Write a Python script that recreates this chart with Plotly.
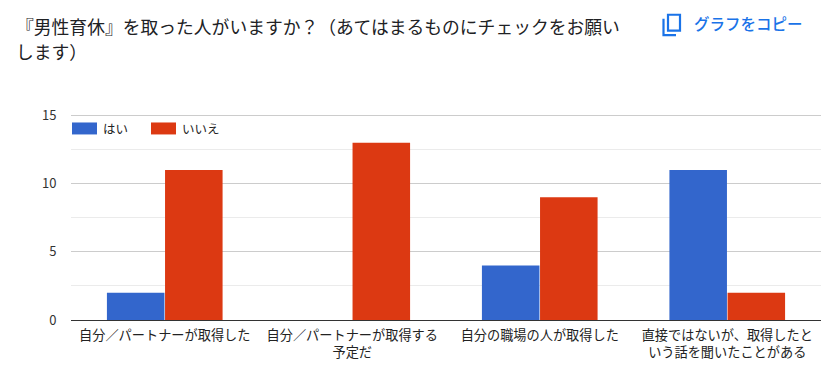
import plotly.graph_objects as go

categories = ["自分／パートナーが取得した", "自分／パートナーが取得する<br>予定だ", "自分の職場の人が取得した", "直接ではないが、取得したと<br>いう話を聞いたことがある"]
yes_values = [2, 0, 4, 11]
no_values = [11, 13, 9, 2]
series_names = ["はい", "いいえ"]
y_ticks = [0, 5, 10, 15]
title_lines = ["『男性育休』を取った人がいますか？（あてはまるものにチェックをお願い", "します）"]
button_label = "グラフをコピー"

BLUE = "#3366cc"
RED = "#dc3912"
W, H = 824, 387
L, R, T, B = 71, 3, 113.5, 67
FONT = "Noto Sans CJK JP"
PX = lambda v: (v - L) / (W - L - R)
PY = lambda v: 1 - (v - T) / (H - T - B)

fig = go.Figure()
for name, vals, col in [(series_names[0], yes_values, BLUE), (series_names[1], no_values, RED)]:
    fig.add_bar(x=categories, y=vals, name=name, marker=dict(color=col, line=dict(width=0)), showlegend=False)

shapes, annos = [], []
for i, line in enumerate(title_lines):
    annos.append(dict(text=line, xref="paper", yref="paper", x=PX(14), y=PY(25 + i * 25), xanchor="left", yanchor="middle",
                      showarrow=False, font=dict(size=17.8, color="#202124", family=FONT)))
annos.append(dict(text=button_label, xref="paper", yref="paper", x=PX(692), y=PY(22), xanchor="left", yanchor="middle",
                  showarrow=False, font=dict(size=15.5, color="#1a73e8", family=FONT, weight=500)))
# copy icon
shapes.append(dict(type="rect", xref="paper", yref="paper", x0=PX(668), x1=PX(680), y0=PY(14), y1=PY(30), line=dict(color="#1a73e8", width=2.2)))
shapes.append(dict(type="path", xref="paper", yref="paper",
                   path=f"M {PX(663.5)} {PY(18)} L {PX(663.5)} {PY(34.5)} L {PX(676)} {PY(34.5)}", line=dict(color="#1a73e8", width=2.2)))
# legend
for x0, col, name, tx in [(72, BLUE, series_names[0], 101), (151, RED, series_names[1], 180)]:
    shapes.append(dict(type="rect", xref="paper", yref="paper", x0=PX(x0), x1=PX(x0 + 25), y0=PY(122), y1=PY(134), fillcolor=col, line=dict(width=0)))
    annos.append(dict(text=name, xref="paper", yref="paper", x=PX(tx), y=PY(128), xanchor="left", yanchor="middle",
                      showarrow=False, font=dict(size=12.5, color="#222222", family=FONT)))

fig.update_layout(
    width=W, height=H, autosize=False,
    margin=dict(l=L, r=R, t=T, b=B),
    paper_bgcolor="white", plot_bgcolor="white",
    barmode="group", bargap=0.38, bargroupgap=0.01,
    font=dict(family=FONT, size=13, color="#222222"),
    shapes=shapes, annotations=annos,
    xaxis=dict(showgrid=False, ticks="", tickfont=dict(size=13.2, color="#222222"), showline=False, zeroline=False,
               tickangle=0, ticklabelstandoff=6),
    yaxis=dict(range=[0, 15.1], tickvals=y_ticks, showgrid=True, gridcolor="#cccccc", gridwidth=1,
               zeroline=True, zerolinecolor="#333333", zerolinewidth=1,
               ticks="outside", ticklen=11, tickcolor="rgba(0,0,0,0)", tickfont=dict(size=13, color="#333333"),
               minor=dict(dtick=2.5, showgrid=True, gridcolor="#ebebeb", gridwidth=1, ticks="")),
)
fig.write_html("out.html", config=dict(displayModeBar=False),
               post_script="document.body.style.margin='0';document.documentElement.style.overflow='hidden';")
